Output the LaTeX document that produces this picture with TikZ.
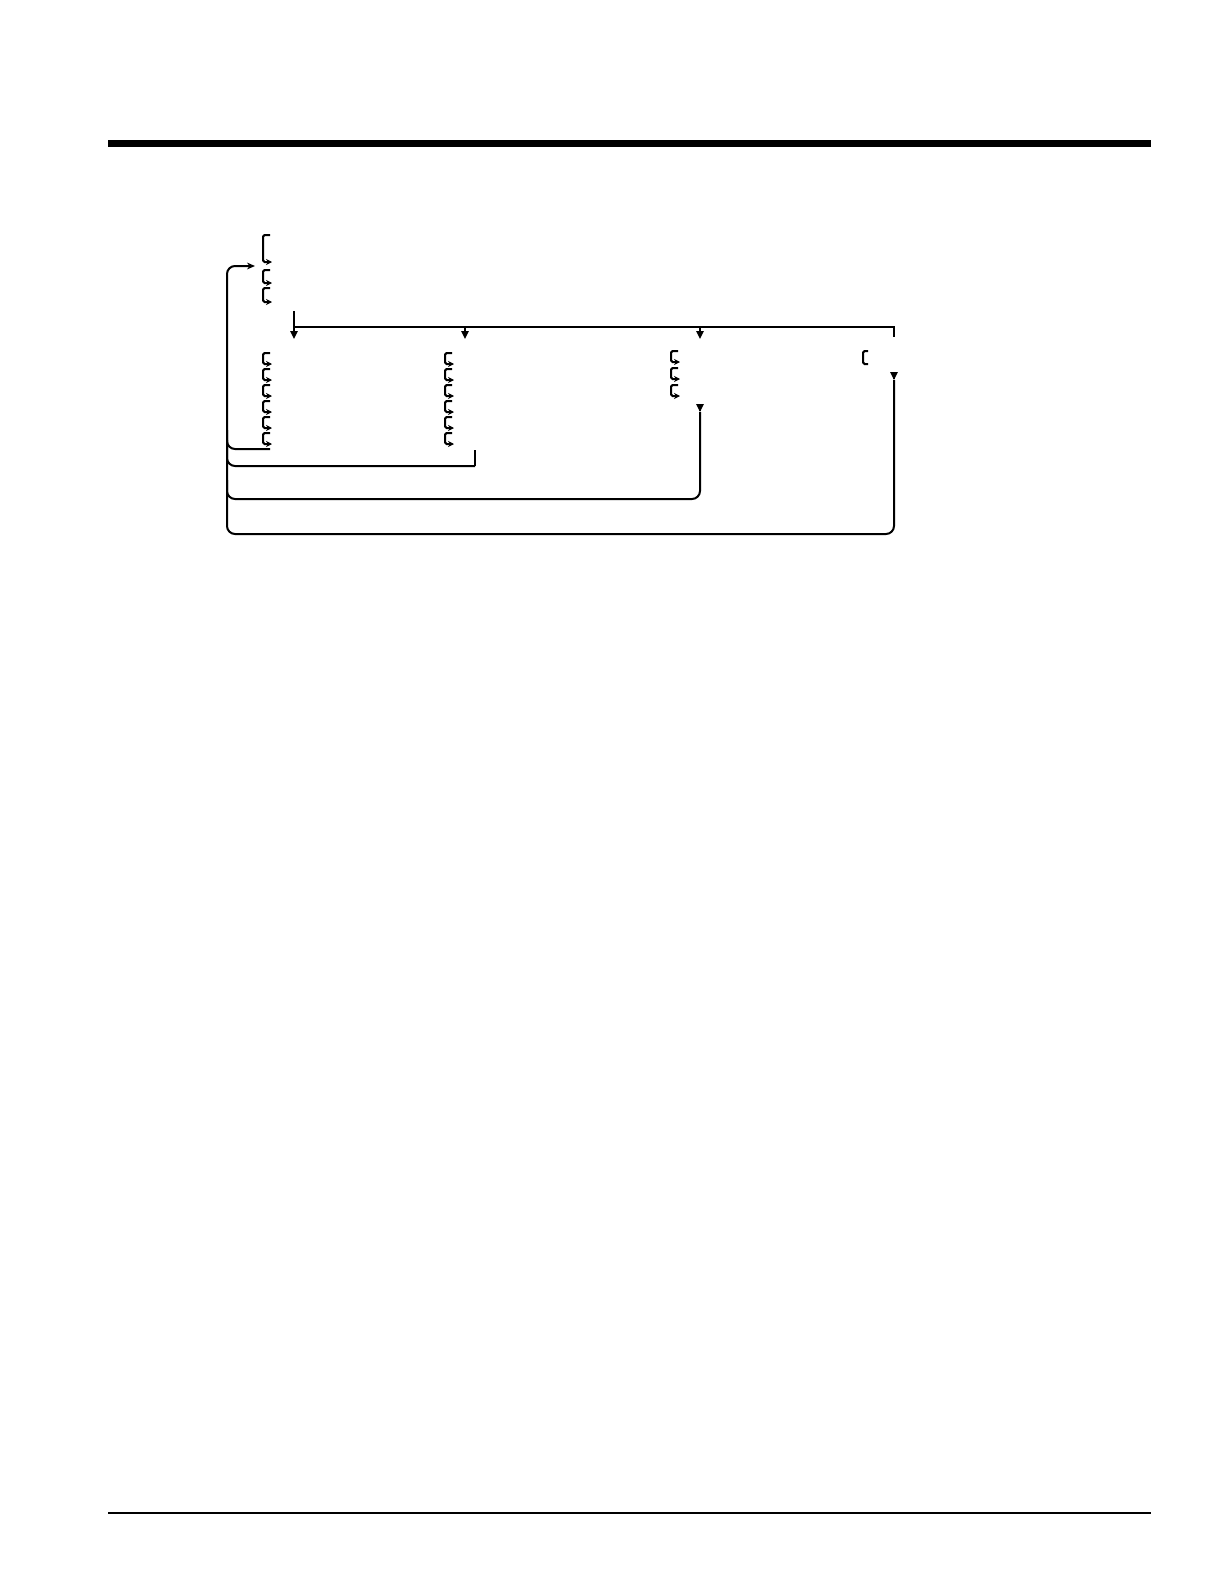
\documentclass[tikz,border=0pt]{standalone}
\usetikzlibrary{arrows.meta}

\tikzset{
  wire/.style={line width=1pt},
  bus/.style={line width=1.3pt},
  downtip/.style={-{Triangle[length=4pt,width=3.6pt]}},
  subtip/.style={-{Stealth[length=3pt,width=3pt]}},
  back/.style={line width=1pt,rounded corners=4pt}
}
% one small list bracket: x, top, bottom
\newcommand{\listhook}[3]{%
  \draw[wire,subtip,rounded corners=0.8pt] (#1+7,#2) -- (#1,#2) -- (#1,#3) -- (#1+9,#3);}

\begin{document}
\begin{tikzpicture}[x=0.5pt,y=-0.5pt]
                  \useasboundingbox (0,0) rectangle (1224,1584);
                  % page rules
                  \coordinate (rtl) at (108,143.5);
                  \coordinate (rtr) at (1151,143.5);
                  \coordinate (rbl) at (108,1513);
                  \coordinate (rbr) at (1151,1513);
                  \draw[line width=3.3pt] (rtl) -- (rtr);
                  \draw[line width=1pt] (rbl) -- (rbr);
                  % head list
                  \listhook{263}{235}{262}
                  \listhook{263}{270}{283}
                  \listhook{263}{288}{302}
                  % columns
                  \foreach \i in {0,...,5} {
                    \listhook{263}{353+16*\i}{364+16*\i}
                    \listhook{445}{353+16*\i}{364+16*\i}
                  }
                  \foreach \i in {0,1,2} {
                    \listhook{671}{351+17*\i}{362+17*\i}
                  }
                  \draw[wire,rounded corners=0.8pt] (868,351) -- (863,351) -- (863,364) -- (868,364);
                  % split bus
                  \coordinate (head) at (294,311);
                  \coordinate (j1) at (294,327);
                  \coordinate (j2) at (465,327);
                  \coordinate (j3) at (700,327);
                  \coordinate (j4) at (894,327);
                  \coordinate (a1) at (294,339);
                  \coordinate (a2) at (465,339);
                  \coordinate (a3) at (700,339);
                  \coordinate (a4) at (894,337);
                  \draw[bus,downtip] (head) -- (a1);
                  \draw[bus] (j1) -- (j4) -- (a4);
                  \draw[wire,downtip] (j2) -- (a2);
                  \draw[wire,downtip] (j3) -- (a3);
                  % returns
                  \coordinate (o2) at (475,450);
                  \coordinate (k2) at (475,466);
                  \coordinate (o3) at (700,412);
                  \coordinate (o4) at (894,380);
                  \coordinate (top) at (255,266);
                  \draw[wire,downtip] (700,411) -- (o3);
                  \draw[wire,downtip] (894,379) -- (o4);
                  \draw[back] (270,449) -- (227,449) -- (227,430);
                  \draw[wire] (o2) -- (k2);
                  \draw[back] (227,440) -- (227,466) -- (k2);
                  \draw[back] (o3) -- (700,499) -- (227,499) -- (227,480);
                  \draw[back,-{Stealth[length=4pt,width=3.4pt]}] (o4) -- (894,534) -- (227,534) -- (227,266) -- (top);
              \end{tikzpicture}
\end{document}
